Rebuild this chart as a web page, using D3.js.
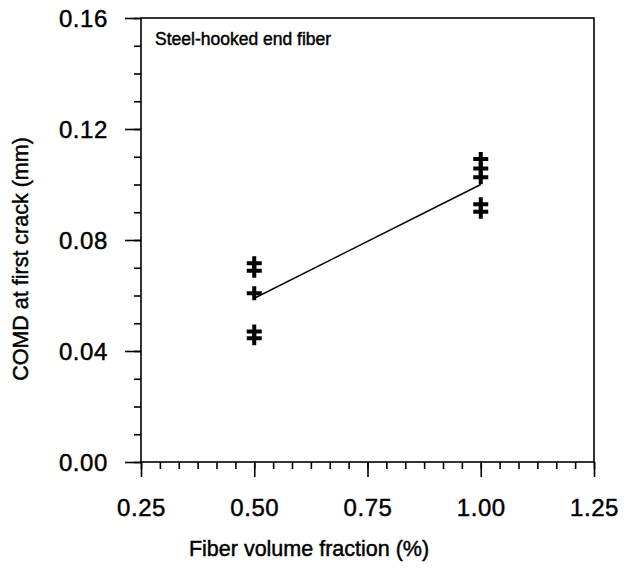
<!DOCTYPE html>
<html>
<head>
<meta charset="utf-8">
<script src="https://cdn.jsdelivr.net/npm/d3@7"></script>
<style>
  html, body { margin: 0; padding: 0; background: #fff; }
  svg { display: block; }
  text { font-family: "Liberation Sans", Arial, Helvetica, sans-serif; fill: #000; stroke: #000; stroke-width: 0.45px; }
</style>
</head>
<body>
<script>
// Fiber volume fractions tested (%)
const fractions = [0.5, 1.0];
// COMD at first crack (mm) for each specimen
const comd050 = [0.0716, 0.0689, 0.0608, 0.0470, 0.0446];
const comd100 = [0.1092, 0.1058, 0.1026, 0.0929, 0.0902];
// Trend line through the group averages
const trendValues = [0.059, 0.100];

const xTicks = [0.25, 0.50, 0.75, 1.00, 1.25];
const yTicks = [0.00, 0.04, 0.08, 0.12, 0.16];
const panelLabel = "Steel-hooked end fiber";
const xTitle = "Fiber volume fraction (%)";
const yTitle = "COMD at first crack (mm)";

const W = 624, H = 570;
const plot = { left: 141, right: 594, top: 18, bottom: 462 };

const svg = d3.select("body").append("svg").attr("width", W).attr("height", H);

const x = d3.scaleLinear().domain([0.25, 1.25]).range([plot.left, plot.right]);
const y = d3.scaleLinear().domain([0, 0.16]).range([plot.bottom, plot.top]);

// Minor ticks: 6 per major interval on x, 4 per major interval on y
const xMinor = d3.range(0, 25).map(i => 0.25 + i * (0.25 / 6));
const yMinor = d3.range(0, 17).map(i => i * 0.01);

// Frame
svg.append("rect")
  .attr("x", plot.left).attr("y", plot.top)
  .attr("width", plot.right - plot.left).attr("height", plot.bottom - plot.top)
  .attr("fill", "none").attr("stroke", "#000").attr("stroke-width", 1.6);

// X axis
const xAxis = svg.append("g").attr("transform", `translate(0,${plot.bottom})`);
xAxis.call(d3.axisBottom(x).tickValues(xMinor).tickSize(7).tickFormat(""))
  .call(g => g.select(".domain").remove());
xAxis.append("g")
  .call(d3.axisBottom(x).tickValues(xTicks).tickSize(15).tickPadding(22).tickFormat(d3.format(".2f")))
  .call(g => g.select(".domain").remove())
  .call(g => g.selectAll("text").attr("font-size", 24).attr("dy", "0.71em")
    .style("font-family", "'Liberation Sans', Arial, sans-serif").attr("letter-spacing", 0.6));
xAxis.selectAll("line").attr("stroke", "#000").attr("stroke-width", 1.6);

// Y axis
const yAxis = svg.append("g").attr("transform", `translate(${plot.left},0)`);
yAxis.call(d3.axisLeft(y).tickValues(yMinor).tickSize(7).tickFormat(""))
  .call(g => g.select(".domain").remove());
yAxis.append("g")
  .call(d3.axisLeft(y).tickValues(yTicks).tickSize(16).tickPadding(17).tickFormat(d3.format(".2f")))
  .call(g => g.select(".domain").remove())
  .call(g => g.selectAll("text").attr("font-size", 24).attr("dy", "0.36em")
    .style("font-family", "'Liberation Sans', Arial, sans-serif").attr("letter-spacing", 0.6));
yAxis.selectAll("line").attr("stroke", "#000").attr("stroke-width", 1.6);

// Axis titles
svg.append("text")
  .attr("x", 309).attr("y", 556)
  .attr("text-anchor", "middle").attr("font-size", 21.5)
  .text(xTitle);
svg.append("text")
  .attr("transform", "translate(28,259) rotate(-90)")
  .attr("text-anchor", "middle").attr("font-size", 21.5)
  .text(yTitle);

// Panel label
svg.append("text")
  .attr("x", 155).attr("y", 45)
  .attr("font-size", 17.5)
  .text(panelLabel);

// Trend line
svg.append("path")
  .datum(fractions.map((f, i) => [f, trendValues[i]]))
  .attr("fill", "none").attr("stroke", "#000").attr("stroke-width", 1.4)
  .attr("d", d3.line().x(d => x(d[0])).y(d => y(d[1])));

// Specimen markers (plus signs)
const points = [
  ...comd050.map(v => ({ f: fractions[0], v })),
  ...comd100.map(v => ({ f: fractions[1], v }))
];
const hArm = 7.5, vArm = 7;
svg.append("g").selectAll("path")
  .data(points).join("path")
  .attr("transform", d => `translate(${x(d.f)},${y(d.v)})`)
  .attr("d", `M${-hArm},0H${hArm}M0,${-vArm}V${vArm}`)
  .attr("stroke", "#000").attr("stroke-width", 4).attr("fill", "none");
</script>
</body>
</html>
